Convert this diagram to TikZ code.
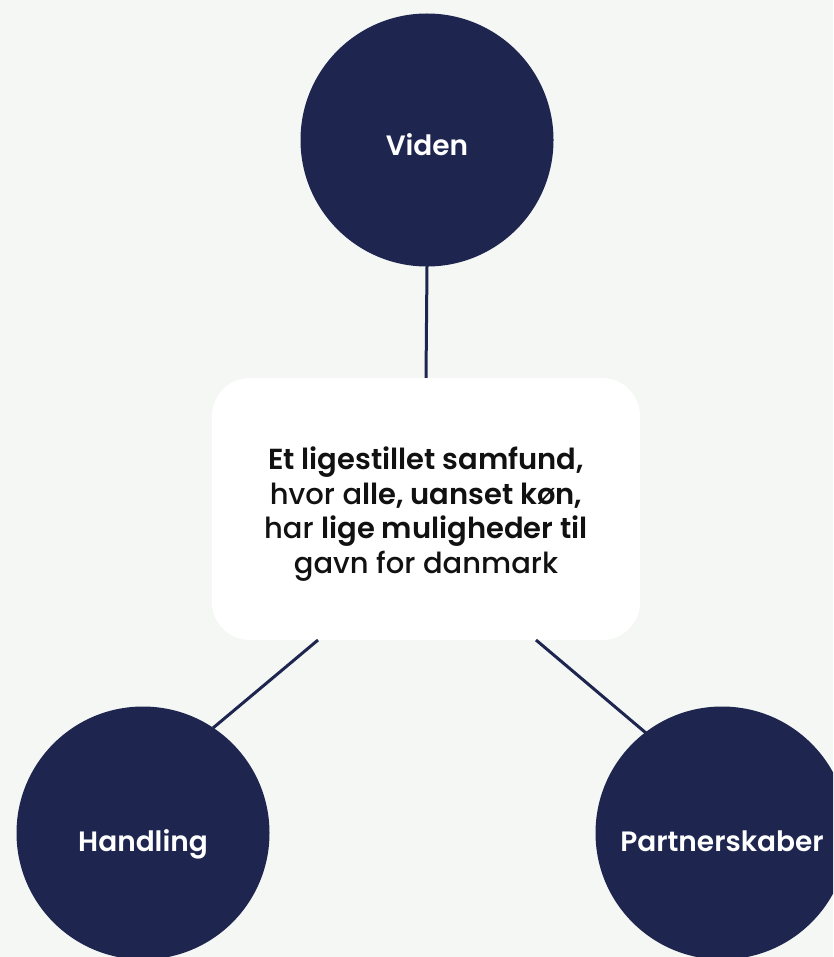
\documentclass[tikz,border=0pt]{standalone}
\usepackage{fontspec}
\setmainfont{Poppins}
\newfontfamily\medf{Poppins Medium}
\newfontfamily\semif{Poppins SemiBold}
\definecolor{navy}{HTML}{1E2650}
\definecolor{bgc}{HTML}{F5F7F4}
\definecolor{ink}{HTML}{111111}
\begin{document}
\begin{tikzpicture}[x=1pt,y=-1pt,
  hub/.style={circle,fill=navy,minimum size=253pt,inner sep=0pt,text=white,text height=20pt,text depth=0pt,font=\semif\fontsize{28}{32}\selectfont},
  goalbox/.style={rectangle,rounded corners=38pt,fill=white,minimum width=428pt,minimum height=262pt,inner sep=0pt,align=center,text=ink,font=\medf\fontsize{29}{34.5}\selectfont},
  link/.style={draw=navy,line width=3pt}]
\fill[bgc] (0,0) rectangle (833,957);
\useasboundingbox (0,0) rectangle (833,957);
\clip (0,0) rectangle (833,957);
\node[goalbox] (box) at (426,509) {\raisebox{-12pt}[0pt][0pt]{\begin{tabular}{@{}c@{}}{\semif Et ligestillet samfund,}\\hvor a{\semif lle, uanset køn,}\\har {\semif lige muligheder til}\\gavn for danmark\end{tabular}}};
\coordinate (bl) at (318,640);
\coordinate (br) at (536,640);
\coordinate (hl) at (213,728);
\coordinate (pr) at (646,733);
\draw[link] (427,266) -- (box.north);
\draw[link] (bl) -- (hl);
\draw[link] (br) -- (pr);
\node[hub] (viden) at (427,140) {\raisebox{-6pt}{Viden}};
\node[hub] (hand) at (143,833) {\raisebox{-8pt}{Handling}};
\node[hub] (part) at (722,833) {\raisebox{-8pt}{Partnerskaber}};
\end{tikzpicture}
\end{document}
